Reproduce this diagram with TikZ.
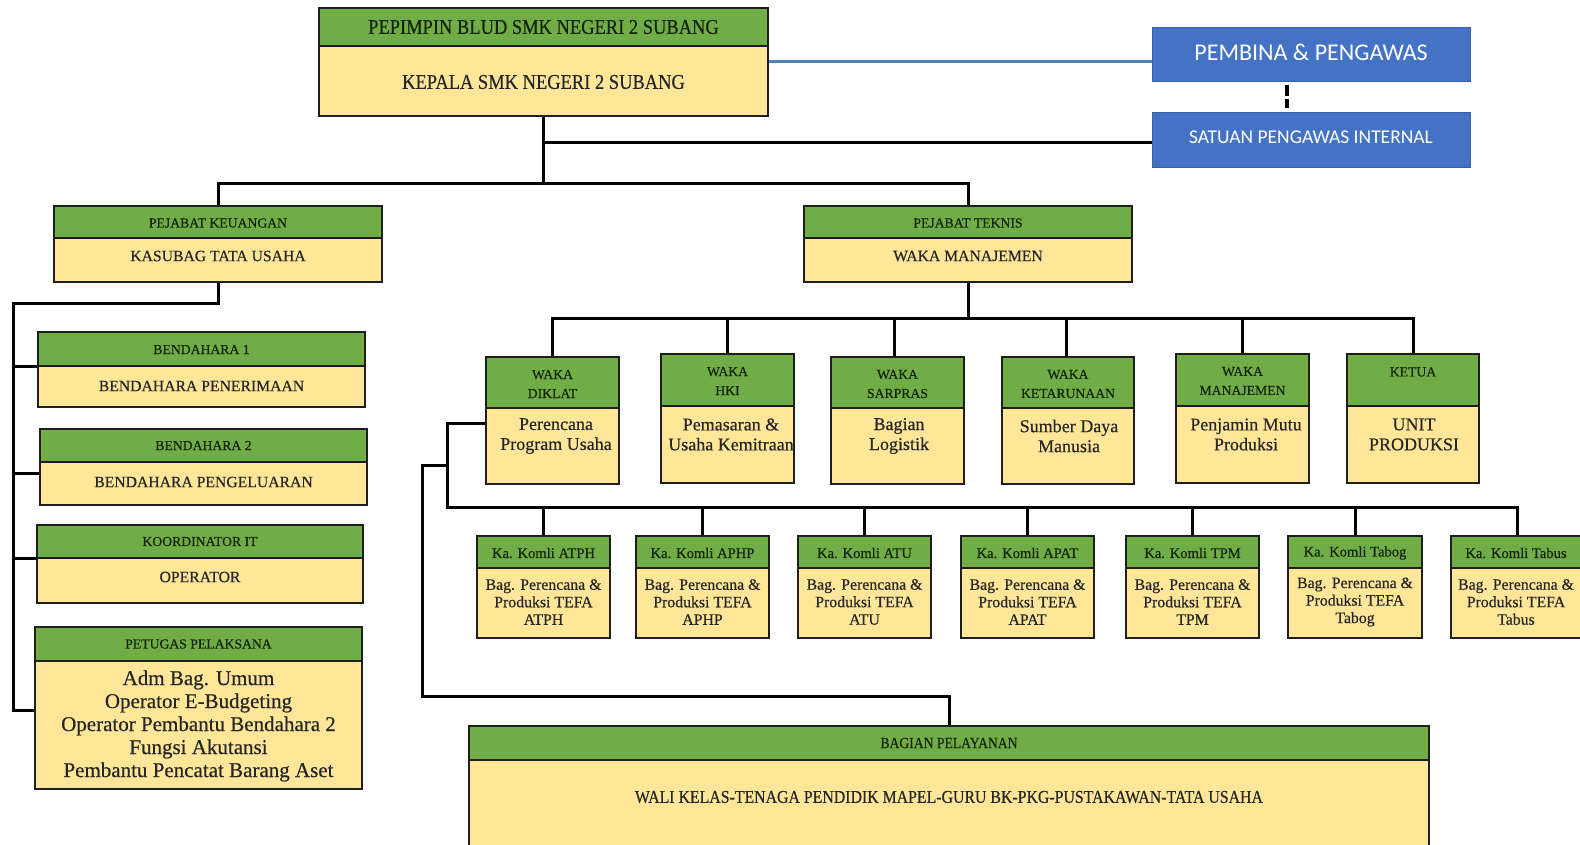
\documentclass[tikz,border=0pt]{standalone}
\usepackage{fontspec}
\setmainfont{Liberation Serif}[FakeBold=0.45]
\newfontfamily\cond{Liberation Serif}[FakeStretch=0.88,FakeBold=0.45]
\newfontfamily\calib{Carlito}
\usetikzlibrary{fit,backgrounds}
\definecolor{hgreen}{HTML}{70AD47}
\definecolor{byellow}{HTML}{FFE699}
\definecolor{edge}{HTML}{1E1E1E}
\definecolor{tdark}{HTML}{262626}
\definecolor{hdtxt}{HTML}{14240C}
\definecolor{pblue}{HTML}{4472C4}
\definecolor{lblue}{HTML}{4F81BD}
\begin{document}
\begin{tikzpicture}[x=1pt,y=-1pt,
  hdr/.style={draw=edge, line width=1.8pt, fill=hgreen, inner sep=0pt, outer sep=0pt},
  bdy/.style={draw=edge, line width=1.8pt, fill=byellow, inner sep=0pt, outer sep=0pt},
  bluebox/.style={fill=pblue, draw=pblue!85!black, line width=0.8pt, inner sep=0pt, outer sep=0pt},
  conn/.style={draw=black, line width=3pt},
  blueconn/.style={draw=lblue, line width=3pt},
  dashc/.style={draw=black, line width=4pt, dash pattern=on 11pt off 3pt, shorten <=4pt, shorten >=4pt},
  ht/.style={inner sep=0pt, align=center, text=hdtxt, font=\fontsize{13.7}{19}\selectfont},
  bt/.style={inner sep=0pt, align=center, text=tdark, font=\fontsize{15.7}{18}\selectfont},
  wt/.style={inner sep=0pt, align=center, text=tdark, font=\fontsize{18}{20}\selectfont},
  kh/.style={inner sep=0pt, align=center, text=hdtxt, font=\fontsize{14.6}{17}\selectfont},
  kt/.style={inner sep=0pt, align=center, text=tdark, font=\fontsize{15.8}{17.5}\selectfont},
  pt/.style={inner sep=0pt, align=center, text=tdark, font=\fontsize{21}{23}\selectfont},
  bluet/.style={inner sep=0pt, align=center, text=white},
]
\useasboundingbox (0,0) rectangle (1580,844);

% ---------- top ----------
\node[hdr, fit={(319,8) (768,46)}] (topH) {};
\node[bdy, fit={(319,46) (768,116)}] (topB) {};
\node[ht, font=\cond\fontsize{21}{24}\selectfont] (topHt) at (543.5,27) {PEPIMPIN BLUD SMK NEGERI 2 SUBANG};
\node[bt, font=\cond\fontsize{21}{24}\selectfont] (topBt) at (543.5,82) {KEPALA SMK NEGERI 2 SUBANG};

\node[bluebox, fit={(1152,27) (1470,81)}] (pemb) {};
\node[bluebox, fit={(1152,112) (1470,167)}] (sat) {};
\node[bluet, font=\calib\fontsize{24}{26}\selectfont] (pembt) at (1311,52) {PEMBINA \& PENGAWAS};
\node[bluet, font=\calib\fontsize{19.5}{22}\selectfont] (satt) at (1311,137) {SATUAN PENGAWAS INTERNAL};

% ---------- pejabat ----------
\node[hdr, fit={(54,206) (382,238)}] (kasH) {};
\node[bdy, fit={(54,238) (382,282)}] (kasB) {};
\node[ht] (kasHt) at (218,223) {PEJABAT KEUANGAN};
\node[bt] (kasBt) at (218,256) {KASUBAG TATA USAHA};

\node[hdr, fit={(804,206) (1132,238)}] (tekH) {};
\node[bdy, fit={(804,238) (1132,282)}] (tekB) {};
\node[ht] (tekHt) at (968,223) {PEJABAT TEKNIS};
\node[bt] (tekBt) at (968,256) {WAKA MANAJEMEN};

% ---------- left column ----------
\node[hdr, fit={(38,332) (365,366)}] (b1H) {};
\node[bdy, fit={(38,366) (365,407)}] (b1B) {};
\node[ht] (b1Ht) at (201.5,349.5) {BENDAHARA 1};
\node[bt] (b1Bt) at (201.5,386) {BENDAHARA PENERIMAAN};

\node[hdr, fit={(40,429) (367,462)}] (b2H) {};
\node[bdy, fit={(40,462) (367,505)}] (b2B) {};
\node[ht] (b2Ht) at (203.5,445.5) {BENDAHARA 2};
\node[bt] (b2Bt) at (203.5,482) {BENDAHARA PENGELUARAN};

\node[hdr, fit={(37,525) (363,558)}] (kiH) {};
\node[bdy, fit={(37,558) (363,603)}] (kiB) {};
\node[ht] (kiHt) at (200,541.5) {KOORDINATOR IT};
\node[bt] (kiBt) at (200,577) {OPERATOR};

\node[hdr, fit={(35,627) (362,661)}] (ppH) {};
\node[bdy, fit={(35,661) (362,789)}] (ppB) {};
\node[ht] (ppHt) at (198.5,644) {PETUGAS PELAKSANA};
\node[pt] (ppBt) at (198.5,726) {Adm Bag. Umum\\Operator E-Budgeting\\Operator Pembantu Bendahara 2\\Fungsi Akutansi\\Pembantu Pencatat Barang Aset};

% ---------- waka row ----------
\node[hdr, fit={(486,357) (619,408)}] (w1H) {};
\node[bdy, fit={(486,408) (619,484)}] (w1B) {};
\node[ht] (w1Ht) at (552.5,384) {WAKA\\DIKLAT};
\node[wt] (w1Bt) at (556,436) {Perencana\\Program Usaha};

\node[hdr, fit={(661,354) (794,406)}] (w2H) {};
\node[bdy, fit={(661,406) (794,483)}] (w2B) {};
\node[ht] (w2Ht) at (727.5,381) {WAKA\\HKI};
\node[wt] (w2Bt) at (731,434.5) {Pemasaran \&\\Usaha Kemitraan};

\node[hdr, fit={(831,357) (964,408)}] (w3H) {};
\node[bdy, fit={(831,408) (964,484)}] (w3B) {};
\node[ht] (w3Ht) at (897.5,384) {WAKA\\SARPRAS};
\node[wt] (w3Bt) at (899,436) {Bagian\\Logistik};

\node[hdr, fit={(1002,357) (1134,408)}] (w4H) {};
\node[bdy, fit={(1002,408) (1134,484)}] (w4B) {};
\node[ht] (w4Ht) at (1068,384) {WAKA\\KETARUNAAN};
\node[wt] (w4Bt) at (1069,436) {Sumber Daya\\Manusia};

\node[hdr, fit={(1176,354) (1309,406)}] (w5H) {};
\node[bdy, fit={(1176,406) (1309,483)}] (w5B) {};
\node[ht] (w5Ht) at (1242.5,381) {WAKA\\MANAJEMEN};
\node[wt] (w5Bt) at (1246,434.5) {Penjamin Mutu\\Produksi};

\node[hdr, fit={(1347,354) (1479,406)}] (w6H) {};
\node[bdy, fit={(1347,406) (1479,483)}] (w6B) {};
\node[ht] (w6Ht) at (1413,372) {KETUA};
\node[wt] (w6Bt) at (1414,434.5) {UNIT\\PRODUKSI};

% ---------- komli row ----------
\node[hdr, fit={(477,536) (610,568)}] (k1H) {};
\node[bdy, fit={(477,568) (610,638)}] (k1B) {};
\node[kh] (k1Ht) at (543.5,553) {Ka. Komli ATPH};
\node[kt] (k1Bt) at (543.5,602) {Bag. Perencana \&\\Produksi TEFA\\ATPH};

\node[hdr, fit={(636,536) (769,568)}] (k2H) {};
\node[bdy, fit={(636,568) (769,638)}] (k2B) {};
\node[kh] (k2Ht) at (702.5,553) {Ka. Komli APHP};
\node[kt] (k2Bt) at (702.5,602) {Bag. Perencana \&\\Produksi TEFA\\APHP};

\node[hdr, fit={(798,536) (931,568)}] (k3H) {};
\node[bdy, fit={(798,568) (931,638)}] (k3B) {};
\node[kh] (k3Ht) at (864.5,553) {Ka. Komli ATU};
\node[kt] (k3Bt) at (864.5,602) {Bag. Perencana \&\\Produksi TEFA\\ATU};

\node[hdr, fit={(961,536) (1094,568)}] (k4H) {};
\node[bdy, fit={(961,568) (1094,638)}] (k4B) {};
\node[kh] (k4Ht) at (1027.5,553) {Ka. Komli APAT};
\node[kt] (k4Bt) at (1027.5,602) {Bag. Perencana \&\\Produksi TEFA\\APAT};

\node[hdr, fit={(1126,536) (1259,568)}] (k5H) {};
\node[bdy, fit={(1126,568) (1259,638)}] (k5B) {};
\node[kh] (k5Ht) at (1192.5,553) {Ka. Komli TPM};
\node[kt] (k5Bt) at (1192.5,602) {Bag. Perencana \&\\Produksi TEFA\\TPM};

\node[hdr, fit={(1288,536) (1422,568)}] (k6H) {};
\node[bdy, fit={(1288,568) (1422,638)}] (k6B) {};
\node[kh] (k6Ht) at (1355,553) {Ka. Komli Tabog};
\node[kt] (k6Bt) at (1355,602) {Bag. Perencana \&\\Produksi TEFA\\Tabog};

\node[hdr, fit={(1451,536) (1584,568)}] (k7H) {};
\node[bdy, fit={(1451,568) (1584,638)}] (k7B) {};
\node[kh] (k7Ht) at (1516,553) {Ka. Komli Tabus};
\node[kt] (k7Bt) at (1516,602) {Bag. Perencana \&\\Produksi TEFA\\Tabus};

% ---------- bagian pelayanan ----------
\node[hdr, fit={(469,726) (1429,760)}] (pelH) {};
\node[bdy, fit={(469,760) (1429,870)}] (pelB) {};
\node[ht, font=\cond\fontsize{15.5}{18}\selectfont] (pelHt) at (949,743) {BAGIAN PELAYANAN};
\node[bt, font=\cond\fontsize{18}{20}\selectfont] (pelBt) at (949,797) {WALI KELAS-TENAGA PENDIDIK MAPEL-GURU BK-PKG-PUSTAKAWAN-TATA USAHA};

% ---------- connectors ----------
\begin{pgfonlayer}{background}
\fill[white] (0,0) rectangle (1580,844);
% top
\coordinate (blA) at ([yshift=-15pt]topB.north east);
\draw[blueconn] (blA) -- (blA -| pemb.west);
\draw[dashc] ([xshift=-24pt]pemb.south) -- ([xshift=-24pt]sat.north);
\coordinate (bus) at (543.5,183);
\draw[conn] (topB.south) -- (bus);
\draw[conn] (topB.south |- 0,142) -- (sat.west |- 0,142);
\draw[conn] (kasH.north) |- (bus) -| (tekH.north);
% left column
\coordinate (lt) at (13,303);
\coordinate (ppbr) at ([yshift=-49pt]ppB.north west);
\draw[conn] (kasB.south) |- (lt) -- (lt |- ppbr) -- (ppbr);
\draw[conn] (lt |- b1H.south west) -- (b1H.south west);
\coordinate (b2br) at ([yshift=-11pt]b2B.north west);
\draw[conn] (lt |- b2br) -- (b2br);
\draw[conn] (lt |- kiH.south west) -- (kiH.south west);
% waka row
\coordinate (wb) at ([yshift=-36pt]tekB.south);
\draw[conn] (tekB.south) -- (wb);
\draw[conn] (w1H.north) |- (wb);
\draw[conn] (w6H.north) |- (wb);
\draw[conn] (w2H.north) -- (w2H.north |- wb);
\draw[conn] ([xshift=-3pt]w3H.north) -- ([xshift=-3pt]w3H.north |- wb);
\draw[conn] ([xshift=-2pt]w4H.north) -- ([xshift=-2pt]w4H.north |- wb);
\draw[conn] (w5H.north) -- (w5H.north |- wb);
% komli row
\coordinate (d1) at ([yshift=-15pt]w1B.north west);
\coordinate (kbus) at (447,507);
\draw[conn] (d1) -| (kbus) -| (k7H.north);
\draw[conn] (k1H.north) -- (k1H.north |- kbus);
\draw[conn] (k2H.north) -- (k2H.north |- kbus);
\draw[conn] (k3H.north) -- (k3H.north |- kbus);
\draw[conn] (k4H.north) -- (k4H.north |- kbus);
\draw[conn] (k5H.north) -- (k5H.north |- kbus);
\draw[conn] (k6H.north) -- (k6H.north |- kbus);
% pelayanan
\coordinate (p1) at (447,465);
\coordinate (p2) at (422,696);
\draw[conn] (p1) -| (p2) -| (pelH.north);
\end{pgfonlayer}
\end{tikzpicture}
\end{document}
